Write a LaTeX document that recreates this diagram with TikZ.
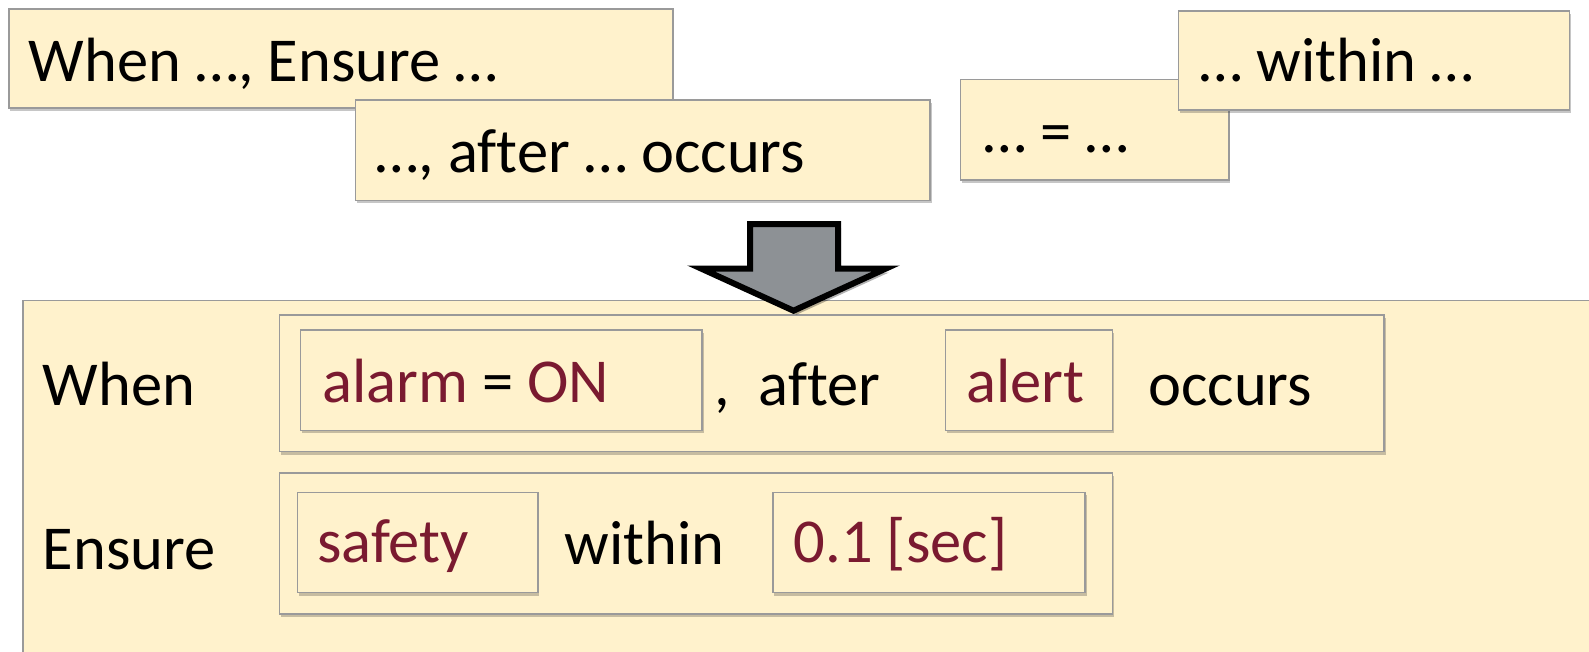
\documentclass[tikz,border=0pt]{standalone}
\usepackage{fontspec}
\setmainfont[Ligatures=NoCommon]{Carlito}
\usetikzlibrary{shadows}
\definecolor{cream}{HTML}{FFF2CC}
\definecolor{edge}{HTML}{9A9A9A}
\definecolor{wine}{HTML}{7A1A30}
\definecolor{arrowgray}{HTML}{8D9195}
\tikzset{
  softshadow/.style={drop shadow={shadow xshift=1.5pt, shadow yshift=-3pt, opacity=0.28, fill=black!80}},
  box/.style={draw=edge, line width=1.4pt, fill=cream, rectangle, inner sep=0pt,
              anchor=north west, softshadow},
  txt/.style={anchor=base west, inner sep=0pt, font=\fontsize{62.5}{75}\selectfont, text=black},
  val/.style={txt, text=wine},
}
\begin{document}
\begin{tikzpicture}[x=1pt, y=-1pt]
\useasboundingbox (0,0) rectangle (1589,651);
\clip (0,0) rectangle (1589,651);

% pattern fragments
\node[box, minimum width=664pt, minimum height=99.3pt] (frag1) at (8.1,8.1) {};
\node[txt] (frag1t) at (28.4,81) {When …, Ensure …};
\node[box, minimum width=574.6pt, minimum height=100.3pt] (frag2) at (354.7,99.3) {};
\node[txt] (frag2t) at (375,172) {…, after … occurs};
\node[box, minimum width=268.5pt, minimum height=100.4pt] (frag3) at (959.7,79) {};
\node[txt] (frag3t) at (983,152) {… = …};
\node[box, minimum width=391.1pt, minimum height=99.3pt] (frag4) at (1177.6,10.1) {};
\node[txt] (frag4t) at (1199,81) {… within …};

% composed specification
\node[box, minimum width=1650pt, minimum height=420pt] (spec) at (22.3,300) {};
\node[txt] (when) at (42.6,405) {When};
\node[box, minimum width=1104.6pt, minimum height=136.8pt] (row1) at (278.7,314.2) {};
\node[box, minimum width=401.3pt, minimum height=100.3pt] (alarmbox) at (300,329.4) {};
\node[val] (alarm) at (322,402) {alarm \textcolor{black}{=} ON};
\node[txt] (after) at (714.5,405) {, \ after};
\node[box, minimum width=167.2pt, minimum height=100.3pt] (alertbox) at (944.5,329.4) {};
\node[val] (alert) at (966,402) {alert};
\node[txt] (occurs) at (1148,405) {occurs};

\node[txt] (ensure) at (42.6,569) {Ensure};
\node[box, minimum width=833pt, minimum height=140.9pt] (row2) at (278.7,472.2) {};
\node[box, minimum width=240.1pt, minimum height=100.3pt] (safetybox) at (297,491.5) {};
\node[val] (safety) at (317,562) {safety};
\node[txt] (within) at (564.5,564) {within};
\node[box, minimum width=312.2pt, minimum height=100.3pt] (timebox) at (772.2,491.5) {};
\node[val] (time) at (793.5,562) {0.1 [sec]};

% block arrow
\draw[draw=black, line width=6pt, line join=miter, fill=arrowgray,
      drop shadow={shadow xshift=3pt, shadow yshift=-4pt, opacity=0.3, fill=black}]
  (750,224) -- (838,224) -- (838,268.5) -- (886,268.5) -- (793.5,310.7)
  -- (701,268.5) -- (750,268.5) -- cycle;
\end{tikzpicture}
\end{document}
